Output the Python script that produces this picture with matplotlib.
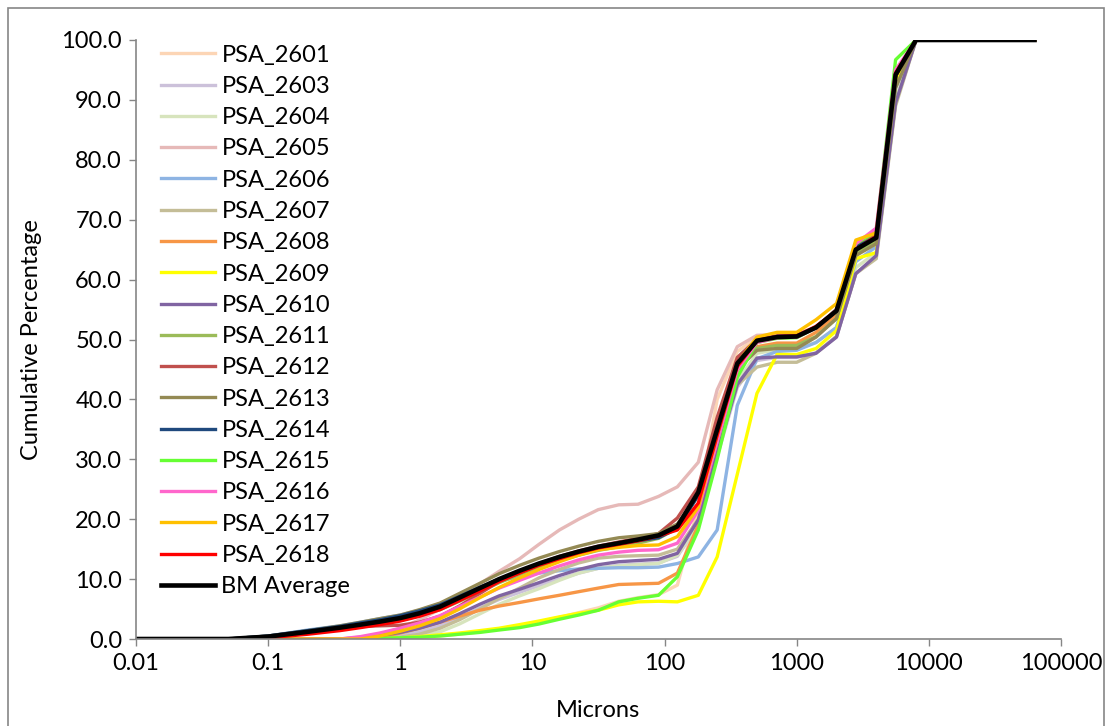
import matplotlib
matplotlib.use("Agg")
import matplotlib.pyplot as plt
from matplotlib.patches import Rectangle

plt.rcParams.update({
    "font.family": ["Lato", "DejaVu Sans"],
    "font.size": 17,
})

# sieve / laser sizes (microns)
microns = [0.01, 0.05, 0.1, 0.2, 0.35, 0.5, 0.7, 1, 1.4, 2, 2.8, 4, 5.6, 8,
           11.2, 16, 22.4, 31.5, 45, 63, 90, 125, 180, 250, 355, 500, 710, 1000,
           1400, 2000, 2800, 4000, 5600, 8000, 63000]

psa_2601 = [0, 0, 0, 0, 0, 0, 0, 0.1, 0.3, 0.5, 0.8, 1.2, 1.7, 2.2,
            2.8, 3.6, 4.4, 5.2, 6.3, 6.9, 7.4, 9.0, 22.0, 40.0, 48.0, 50.3, 50.6, 50.6,
            52.0, 54.5, 65.0, 67.0, 94.0, 100, 100]
psa_2603 = [0, 0, 0, 0, 0, 0, 0.1, 0.5, 1.2, 2.2, 3.6, 5.2, 6.6, 7.8,
            8.9, 10.0, 11.0, 11.8, 12.3, 12.5, 12.7, 13.8, 19.0, 30.5, 42.0, 46.5, 47.0, 47.0,
            47.8, 50.5, 61.0, 63.8, 89.5, 100, 100]
psa_2604 = [0, 0, 0, 0, 0, 0, 0, 0.1, 0.5, 1.2, 2.5, 4.2, 5.8, 7.2,
            8.4, 9.8, 11.0, 11.8, 12.2, 12.4, 12.6, 14.0, 19.0, 31.0, 43.0, 47.7, 48.3, 48.4,
            49.5, 52.0, 62.0, 64.5, 90.0, 100, 100]
psa_2605 = [0, 0, 0, 0, 0, 0.3, 0.8, 1.8, 3.2, 5.0, 7.0, 9.2, 11.3, 13.4,
            15.8, 18.2, 20.0, 21.6, 22.4, 22.5, 23.8, 25.4, 29.5, 41.6, 48.8, 50.7, 50.8, 51.0,
            52.0, 54.0, 64.5, 66.5, 93.0, 100, 100]
psa_2606 = [0, 0, 0.5, 1.5, 2.2, 2.8, 3.4, 4.0, 4.8, 5.9, 7.3, 8.7, 9.7, 10.4,
            11.0, 11.4, 11.7, 11.8, 11.9, 11.9, 12.0, 12.6, 13.7, 18.2, 39.0, 46.8, 48.0, 48.2,
            49.5, 52.0, 63.0, 65.5, 92.0, 100, 100]
psa_2607 = [0, 0, 0, 0, 0, 0, 0.1, 0.3, 0.8, 1.8, 3.2, 5.0, 6.8, 8.5,
            10.2, 11.6, 12.7, 13.5, 13.8, 13.9, 14.0, 15.0, 20.0, 32.0, 42.4, 45.4, 46.2, 46.2,
            47.7, 50.5, 61.0, 63.5, 89.0, 100, 100]
psa_2608 = [0, 0, 0, 0, 0, 0, 0.3, 1.0, 1.8, 2.8, 3.8, 4.8, 5.5, 6.1,
            6.7, 7.3, 7.9, 8.5, 9.1, 9.2, 9.3, 11.0, 19.0, 33.0, 45.0, 48.8, 49.4, 49.4,
            51.2, 54.0, 65.0, 66.5, 93.0, 100, 100]
psa_2609 = [0, 0, 0, 0, 0, 0, 0, 0.2, 0.4, 0.7, 1.0, 1.4, 1.8, 2.4,
            3.0, 3.7, 4.3, 4.8, 5.7, 6.2, 6.3, 6.2, 7.3, 13.7, 27.5, 41.0, 47.5, 47.5,
            48.5, 51.5, 63.5, 64.5, 93.0, 100, 100]
psa_2610 = [0, 0, 0, 0, 0, 0.2, 0.6, 1.1, 1.8, 2.8, 4.2, 5.8, 7.2, 8.3,
            9.4, 10.6, 11.6, 12.4, 12.9, 13.1, 13.3, 14.3, 19.9, 31.0, 42.5, 46.9, 47.1, 47.1,
            47.7, 50.4, 61.0, 64.0, 89.5, 100, 100]
psa_2611 = [0, 0, 0.3, 1.0, 1.6, 2.1, 2.6, 3.1, 3.9, 4.9, 6.3, 7.9, 9.4, 10.8,
            12.0, 13.1, 14.0, 14.8, 15.4, 16.0, 16.8, 18.5, 24.0, 34.5, 45.0, 48.5, 49.0, 49.0,
            50.5, 53.5, 64.5, 66.5, 94.0, 100, 100]
psa_2612 = [0, 0, 0.3, 1.0, 1.8, 2.1, 2.2, 2.3, 2.8, 3.8, 5.5, 7.6, 9.6, 11.2,
            12.6, 13.8, 14.7, 15.5, 16.2, 16.8, 17.6, 20.2, 25.4, 37.0, 47.0, 50.0, 50.6, 50.7,
            52.0, 55.0, 65.5, 67.5, 94.0, 100, 100]
psa_2613 = [0, 0, 0.5, 1.4, 2.2, 2.8, 3.4, 4.0, 4.9, 6.0, 7.6, 9.3, 10.9, 12.3,
            13.5, 14.6, 15.5, 16.3, 16.9, 17.2, 17.6, 19.2, 24.0, 34.0, 45.0, 48.2, 48.5, 48.5,
            50.4, 53.5, 64.0, 66.0, 92.0, 100, 100]
psa_2614 = [0, 0, 0.5, 1.4, 2.1, 2.7, 3.2, 3.9, 4.7, 5.7, 7.1, 8.6, 10.0, 11.3,
            12.5, 13.6, 14.5, 15.3, 15.9, 16.4, 16.9, 18.5, 24.0, 35.0, 46.0, 49.8, 50.5, 50.6,
            52.0, 54.8, 65.5, 67.0, 94.0, 100, 100]
psa_2615 = [0, 0, 0, 0, 0, 0, 0.1, 0.2, 0.3, 0.5, 0.8, 1.1, 1.5, 1.9,
            2.5, 3.3, 4.0, 4.8, 6.2, 6.8, 7.3, 10.4, 18.2, 30.0, 43.7, 49.5, 50.2, 50.3,
            52.0, 55.0, 66.0, 68.0, 96.7, 100, 100]
psa_2616 = [0, 0, 0, 0, 0, 0.4, 1.0, 1.8, 2.7, 3.9, 5.4, 7.0, 8.5, 9.8,
            11.0, 12.2, 13.2, 14.0, 14.5, 14.8, 14.9, 16.0, 21.5, 33.0, 45.0, 49.5, 50.3, 50.4,
            52.0, 55.0, 66.0, 68.6, 95.0, 100, 100]
psa_2617 = [0, 0, 0, 0, 0, 0, 0.5, 1.3, 2.2, 3.4, 5.0, 6.9, 8.6, 10.2,
            11.6, 12.9, 14.0, 14.9, 15.3, 15.6, 15.7, 17.1, 22.0, 34.0, 46.0, 50.4, 51.2, 51.2,
            53.3, 56.0, 66.6, 67.8, 94.0, 100, 100]
psa_2618 = [0, 0, 0.2, 0.8, 1.4, 1.9, 2.4, 3.0, 3.8, 4.9, 6.4, 8.0, 9.6, 11.0,
            12.3, 13.4, 14.4, 15.2, 15.8, 16.4, 17.2, 18.2, 22.7, 34.0, 45.5, 49.8, 50.5, 50.6,
            52.2, 54.8, 65.0, 67.2, 94.5, 100, 100]
bm_average = [0, 0, 0.4, 1.2, 1.9, 2.4, 2.9, 3.5, 4.3, 5.4, 6.9, 8.5, 10.0, 11.4,
              12.6, 13.7, 14.6, 15.4, 16.0, 16.6, 17.3, 18.8, 24.5, 35.0, 46.0, 49.8, 50.4, 50.5,
              52.0, 54.8, 65.0, 67.0, 94.2, 100, 100]

labels = ["PSA_2601", "PSA_2603", "PSA_2604", "PSA_2605", "PSA_2606", "PSA_2607",
          "PSA_2608", "PSA_2609", "PSA_2610", "PSA_2611", "PSA_2612", "PSA_2613",
          "PSA_2614", "PSA_2615", "PSA_2616", "PSA_2617", "PSA_2618", "BM Average"]
series = [psa_2601, psa_2603, psa_2604, psa_2605, psa_2606, psa_2607, psa_2608,
          psa_2609, psa_2610, psa_2611, psa_2612, psa_2613, psa_2614, psa_2615,
          psa_2616, psa_2617, psa_2618, bm_average]
colors = ["#FCD5B5", "#CCC1DA", "#D7E4BD", "#E6B9B8", "#8EB4E3", "#C4BD97",
          "#F79646", "#FFFF00", "#8064A2", "#9BBB59", "#C0504D", "#948A54",
          "#1F497D", "#66FF33", "#FF66CC", "#FFC000", "#FF0000", "#000000"]

x_ticks = [0.01, 0.1, 1, 10, 100, 1000, 10000, 100000]
x_ticklabels = ["0.01", "0.1", "1", "10", "100", "1000", "10000", "100000"]
y_ticks = list(range(0, 101, 10))

W, H = 1112, 726
fig = plt.figure(figsize=(W / 100, H / 100), dpi=100)
ax = fig.add_axes([136 / W, 1 - 639 / H, (1061 - 136) / W, (639 - 40) / H])

for vals, lab, col in zip(series, labels, colors):
    lw = 3.3 if lab == "BM Average" else 2.4
    ax.plot(microns, vals, color=col, lw=lw, label=lab, solid_joinstyle="round")

ax.set_xscale("log")
ax.set_xlim(0.01, 100000)
ax.set_ylim(0, 100)
ax.set_xticks(x_ticks)
ax.set_xticklabels(x_ticklabels)
ax.xaxis.set_minor_locator(matplotlib.ticker.NullLocator())
ax.set_yticks(y_ticks)
ax.set_yticklabels([f"{v:.1f}" for v in y_ticks])
ax.tick_params(axis="both", direction="out", length=5, width=1, color="#868686",
               labelsize=17, pad=5)

for s in ["top", "right"]:
    ax.spines[s].set_visible(False)
for s in ["left", "bottom"]:
    ax.spines[s].set_color("#868686")
    ax.spines[s].set_linewidth(1.2)

ax.set_xlabel("Microns", fontsize=17, labelpad=19)
ax.set_ylabel("Cumulative Percentage", fontsize=17, labelpad=14)

leg = ax.legend(loc="upper left", bbox_to_anchor=(0.017, 1.008), frameon=False,
                fontsize=17, handlelength=2.3, handletextpad=0.25,
                labelspacing=0.435, borderaxespad=0)

# outer chart border
fig.patches.append(Rectangle((8 / W, -0.01), (1104 - 8) / W, 1 - 8 / H + 0.01,
                             transform=fig.transFigure, fill=False,
                             edgecolor="#868686", lw=1.2))

fig.savefig("out.png", dpi=100)
